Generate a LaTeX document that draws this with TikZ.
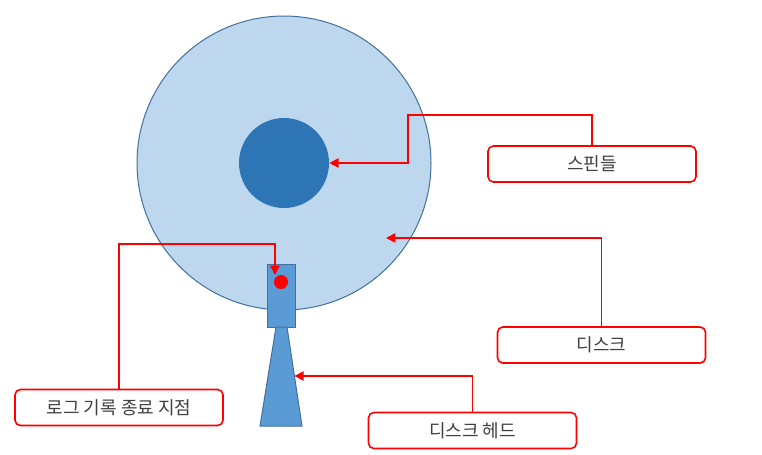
\documentclass[tikz,border=0pt]{standalone}
\usepackage{fontspec}
\newfontfamily\kr{Noto Sans CJK KR}
\usetikzlibrary{calc}
\usetikzlibrary{arrows.meta,shapes}
\usetikzlibrary{positioning}
\definecolor{diskfill}{HTML}{BDD7EE}
\definecolor{diskline}{HTML}{41719C}
\definecolor{spindlefill}{HTML}{2E75B6}
\definecolor{headfill}{HTML}{5B9BD5}
\definecolor{labeltext}{HTML}{404040}
\tikzstyle{lbl}=[draw=red,line width=1.2pt,rounded corners=4pt,fill=white,
                minimum width=156pt,minimum height=27pt,inner sep=0,
                text=labeltext,font=\kr\fontsize{13.5}{15}\selectfont]
\tikzstyle{ptr}=[draw=red,line width=1.2pt,-{Triangle[length=7pt,width=7pt]}]
\tikzstyle{part}=[draw=diskline,line width=0.75pt]

\begin{document}
\begin{tikzpicture}[x=0.75pt,y=-0.75pt]
\useasboundingbox (0,0) rectangle (762,454);
% disk and spindle
\node[part,circle,fill=diskfill,minimum size=220.5pt,inner sep=0] (disk) at (284,163) {};
\node[circle,fill=spindlefill,minimum size=67.5pt,inner sep=0] (spindle) at (284,163) {};
% head
\node[part,fill=headfill,minimum width=21pt,minimum height=47.25pt,inner sep=0] (head) at (281,295.5) {};
\draw[part,fill=headfill] (276,327) -- (287,327) -- (302,426) -- (260,426) -- cycle;
\node[circle,fill=red,minimum size=10.5pt,inner sep=0] (dot) at (281,282) {};
\coordinate (diskpt) at (386,238);
\coordinate (armpt) at (294.4,376);
\coordinate (logpt) at (275,275);
% labels
\node[lbl] (spbox) at (592,164) {스핀들};
\node[lbl] (dkbox) at (601.5,345) {디스크};
\node[lbl] (hdbox) at (472.5,430.5) {디스크 헤드};
\node[lbl] (lgbox) at (119,407.5) {로그 기록 종료 지점};
% pointers
\draw[ptr] (spbox.north) |- (408,115) |- (spindle.east);
\draw[ptr] (dkbox.north) |- (diskpt);
\draw[ptr] (hdbox.north) |- (armpt);
\draw[ptr] (lgbox.north) |- ($(logpt)+(0,-31)$) -- (logpt);
\end{tikzpicture}
\end{document}
